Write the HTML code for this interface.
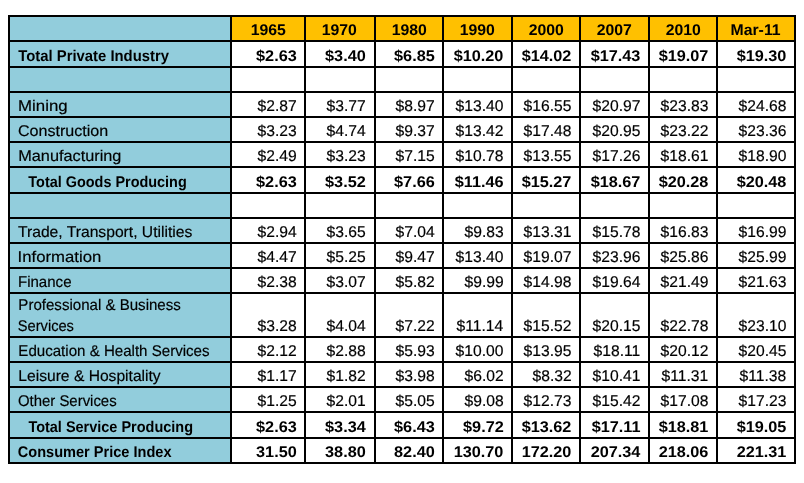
<!DOCTYPE html>
<html lang="en">
<head>
<meta charset="utf-8">
<title>Average Hourly Earnings by Industry</title>
<style>
html,body{margin:0;padding:0;background:#fff;}
body{width:804px;height:483px;overflow:hidden;position:relative;font-family:"Liberation Sans",sans-serif;}
table.wages{position:absolute;left:8px;top:15px;border-collapse:separate;border-spacing:2px;background:#000;table-layout:fixed;width:788px;}
table.wages td,table.wages th{padding:0;margin:0;font-size:15.5px;line-height:23px;text-rendering:geometricPrecision;color:#000;white-space:nowrap;overflow:hidden;vertical-align:bottom;font-weight:normal;background:#fff;-webkit-text-stroke:0.18px #000;--dy:2px;}
table.wages th.lab{background:#92cddc;text-align:left;font-size:15.5px;--dy:2px;}
table.wages th.yr{background:#ffc000;text-align:center;font-weight:bold;-webkit-text-stroke:0;}
table.wages td.num{text-align:right;}
table.wages tr.tot td,table.wages tr.tot th{font-weight:bold;-webkit-text-stroke:0;}
table.wages th.lab .ln{line-height:20.5px;--dy:1px;}
.t{display:inline-block;transform-origin:left center;}
.num .t{transform-origin:right center;transform:translateY(var(--dy)) scaleX(var(--sn));margin-right:calc(var(--pr) + var(--cx,0px));}
table.wages td:nth-child(2){--cx:-0.3px;}
table.wages td:nth-child(3){--cx:1.2px;}
table.wages td:nth-child(7){--cx:0.6px;}
.yr .t{transform-origin:center center;transform:translateY(var(--dy)) scaleX(var(--sh));}
table.wages{--sn:1.01;--pr:7.4px;--sh:1.02;}
table.wages tr.tot{--sn:1.05;--pr:7.3px;}
</style>
</head>
<body>
<table class="wages">
<colgroup>
<col style="width:220px">
<col style="width:72px">
<col style="width:68px">
<col style="width:66px">
<col style="width:67px">
<col style="width:66px">
<col style="width:67px">
<col style="width:66px">
<col style="width:76px">
</colgroup>
<thead><tr style="height:23px"><th class="lab"></th><th class="yr"><span class="t">1965</span></th><th class="yr"><span class="t" style="margin-right:2px">1970</span></th><th class="yr"><span class="t">1980</span></th><th class="yr"><span class="t">1990</span></th><th class="yr"><span class="t">2000</span></th><th class="yr"><span class="t">2007</span></th><th class="yr"><span class="t">2010</span></th><th class="yr"><span class="t">Mar-11</span></th></tr></thead>
<tbody>
<tr class="tot" style="height:24px"><th class="lab"><span class="t" style="transform:translate(8.22px,var(--dy)) scaleX(0.9584)">Total Private Industry</span></th><td class="num"><span class="t">$2.63</span></td><td class="num"><span class="t">$3.40</span></td><td class="num"><span class="t">$6.85</span></td><td class="num"><span class="t">$10.20</span></td><td class="num"><span class="t">$14.02</span></td><td class="num"><span class="t">$17.43</span></td><td class="num"><span class="t">$19.07</span></td><td class="num"><span class="t">$19.30</span></td></tr>
<tr style="height:23px"><th class="lab"></th><td class="num"></td><td class="num"></td><td class="num"></td><td class="num"></td><td class="num"></td><td class="num"></td><td class="num"></td><td class="num"></td></tr>
<tr style="height:23px"><th class="lab"><span class="t" style="transform:translate(8.10px,var(--dy)) scaleX(1.0851)">Mining</span></th><td class="num"><span class="t">$2.87</span></td><td class="num"><span class="t">$3.77</span></td><td class="num"><span class="t">$8.97</span></td><td class="num"><span class="t">$13.40</span></td><td class="num"><span class="t">$16.55</span></td><td class="num"><span class="t">$20.97</span></td><td class="num"><span class="t">$23.83</span></td><td class="num"><span class="t">$24.68</span></td></tr>
<tr style="height:23px"><th class="lab"><span class="t" style="transform:translate(7.91px,var(--dy)) scaleX(1.0368)">Construction</span></th><td class="num"><span class="t">$3.23</span></td><td class="num"><span class="t">$4.74</span></td><td class="num"><span class="t">$9.37</span></td><td class="num"><span class="t">$13.42</span></td><td class="num"><span class="t">$17.48</span></td><td class="num"><span class="t">$20.95</span></td><td class="num"><span class="t">$23.22</span></td><td class="num"><span class="t">$23.36</span></td></tr>
<tr style="height:23px"><th class="lab"><span class="t" style="transform:translate(8.24px,var(--dy)) scaleX(1.0504)">Manufacturing</span></th><td class="num"><span class="t">$2.49</span></td><td class="num"><span class="t">$3.23</span></td><td class="num"><span class="t">$7.15</span></td><td class="num"><span class="t">$10.78</span></td><td class="num"><span class="t">$13.55</span></td><td class="num"><span class="t">$17.26</span></td><td class="num"><span class="t">$18.61</span></td><td class="num"><span class="t">$18.90</span></td></tr>
<tr class="tot" style="height:24px"><th class="lab"><span class="t" style="transform:translate(18.33px,var(--dy)) scaleX(0.9307)">Total Goods Producing</span></th><td class="num"><span class="t">$2.63</span></td><td class="num"><span class="t">$3.52</span></td><td class="num"><span class="t">$7.66</span></td><td class="num"><span class="t">$11.46</span></td><td class="num"><span class="t">$15.27</span></td><td class="num"><span class="t">$18.67</span></td><td class="num"><span class="t">$20.28</span></td><td class="num"><span class="t">$20.48</span></td></tr>
<tr style="height:23px"><th class="lab"></th><td class="num"></td><td class="num"></td><td class="num"></td><td class="num"></td><td class="num"></td><td class="num"></td><td class="num"></td><td class="num"></td></tr>
<tr style="height:23px"><th class="lab"><span class="t" style="transform:translate(7.97px,var(--dy)) scaleX(1.0104)">Trade, Transport, Utilities</span></th><td class="num"><span class="t">$2.94</span></td><td class="num"><span class="t">$3.65</span></td><td class="num"><span class="t">$7.04</span></td><td class="num"><span class="t">$9.83</span></td><td class="num"><span class="t">$13.31</span></td><td class="num"><span class="t">$15.78</span></td><td class="num"><span class="t">$16.83</span></td><td class="num"><span class="t">$16.99</span></td></tr>
<tr style="height:23px"><th class="lab"><span class="t" style="transform:translate(7.59px,var(--dy)) scaleX(1.0791)">Information</span></th><td class="num"><span class="t">$4.47</span></td><td class="num"><span class="t">$5.25</span></td><td class="num"><span class="t">$9.47</span></td><td class="num"><span class="t">$13.40</span></td><td class="num"><span class="t">$19.07</span></td><td class="num"><span class="t">$23.96</span></td><td class="num"><span class="t">$25.86</span></td><td class="num"><span class="t">$25.99</span></td></tr>
<tr style="height:23px"><th class="lab"><span class="t" style="transform:translate(7.97px,var(--dy)) scaleX(0.9708)">Finance</span></th><td class="num"><span class="t">$2.38</span></td><td class="num"><span class="t">$3.07</span></td><td class="num"><span class="t">$5.82</span></td><td class="num"><span class="t">$9.99</span></td><td class="num"><span class="t">$14.98</span></td><td class="num"><span class="t">$19.64</span></td><td class="num"><span class="t">$21.49</span></td><td class="num"><span class="t">$21.63</span></td></tr>
<tr style="height:42px"><th class="lab"><div class="ln"><span class="t" style="transform:translate(8.37px,var(--dy)) scaleX(0.9718)">Professional &amp; Business</span></div><div class="ln"><span class="t" style="transform:translate(7.76px,var(--dy)) scaleX(0.9451)">Services</span></div></th><td class="num"><span class="t">$3.28</span></td><td class="num"><span class="t">$4.04</span></td><td class="num"><span class="t">$7.22</span></td><td class="num"><span class="t">$11.14</span></td><td class="num"><span class="t">$15.52</span></td><td class="num"><span class="t">$20.15</span></td><td class="num"><span class="t">$22.78</span></td><td class="num"><span class="t">$23.10</span></td></tr>
<tr style="height:23px"><th class="lab"><span class="t" style="transform:translate(8.32px,var(--dy)) scaleX(0.9735)">Education &amp; Health Services</span></th><td class="num"><span class="t">$2.12</span></td><td class="num"><span class="t">$2.88</span></td><td class="num"><span class="t">$5.93</span></td><td class="num"><span class="t">$10.00</span></td><td class="num"><span class="t">$13.95</span></td><td class="num"><span class="t">$18.11</span></td><td class="num"><span class="t">$20.12</span></td><td class="num"><span class="t">$20.45</span></td></tr>
<tr style="height:23px"><th class="lab"><span class="t" style="transform:translate(8.32px,var(--dy)) scaleX(1.0076)">Leisure &amp; Hospitality</span></th><td class="num"><span class="t">$1.17</span></td><td class="num"><span class="t">$1.82</span></td><td class="num"><span class="t">$3.98</span></td><td class="num"><span class="t">$6.02</span></td><td class="num"><span class="t">$8.32</span></td><td class="num"><span class="t">$10.41</span></td><td class="num"><span class="t">$11.31</span></td><td class="num"><span class="t">$11.38</span></td></tr>
<tr style="height:23px"><th class="lab"><span class="t" style="transform:translate(7.94px,var(--dy)) scaleX(0.9628)">Other Services</span></th><td class="num"><span class="t">$1.25</span></td><td class="num"><span class="t">$2.01</span></td><td class="num"><span class="t">$5.05</span></td><td class="num"><span class="t">$9.08</span></td><td class="num"><span class="t">$12.73</span></td><td class="num"><span class="t">$15.42</span></td><td class="num"><span class="t">$17.08</span></td><td class="num"><span class="t">$17.23</span></td></tr>
<tr class="tot" style="height:24px"><th class="lab"><span class="t" style="transform:translate(18.40px,var(--dy)) scaleX(0.9337)">Total Service Producing</span></th><td class="num"><span class="t">$2.63</span></td><td class="num"><span class="t">$3.34</span></td><td class="num"><span class="t">$6.43</span></td><td class="num"><span class="t">$9.72</span></td><td class="num"><span class="t">$13.62</span></td><td class="num"><span class="t">$17.11</span></td><td class="num"><span class="t">$18.81</span></td><td class="num"><span class="t">$19.05</span></td></tr>
<tr class="tot" style="height:23px"><th class="lab"><span class="t" style="transform:translate(7.80px,var(--dy)) scaleX(0.9391)">Consumer Price Index</span></th><td class="num"><span class="t">31.50</span></td><td class="num"><span class="t">38.80</span></td><td class="num"><span class="t">82.40</span></td><td class="num"><span class="t">130.70</span></td><td class="num"><span class="t">172.20</span></td><td class="num"><span class="t">207.34</span></td><td class="num"><span class="t">218.06</span></td><td class="num"><span class="t">221.31</span></td></tr>
</tbody>
</table>
</body>
</html>
